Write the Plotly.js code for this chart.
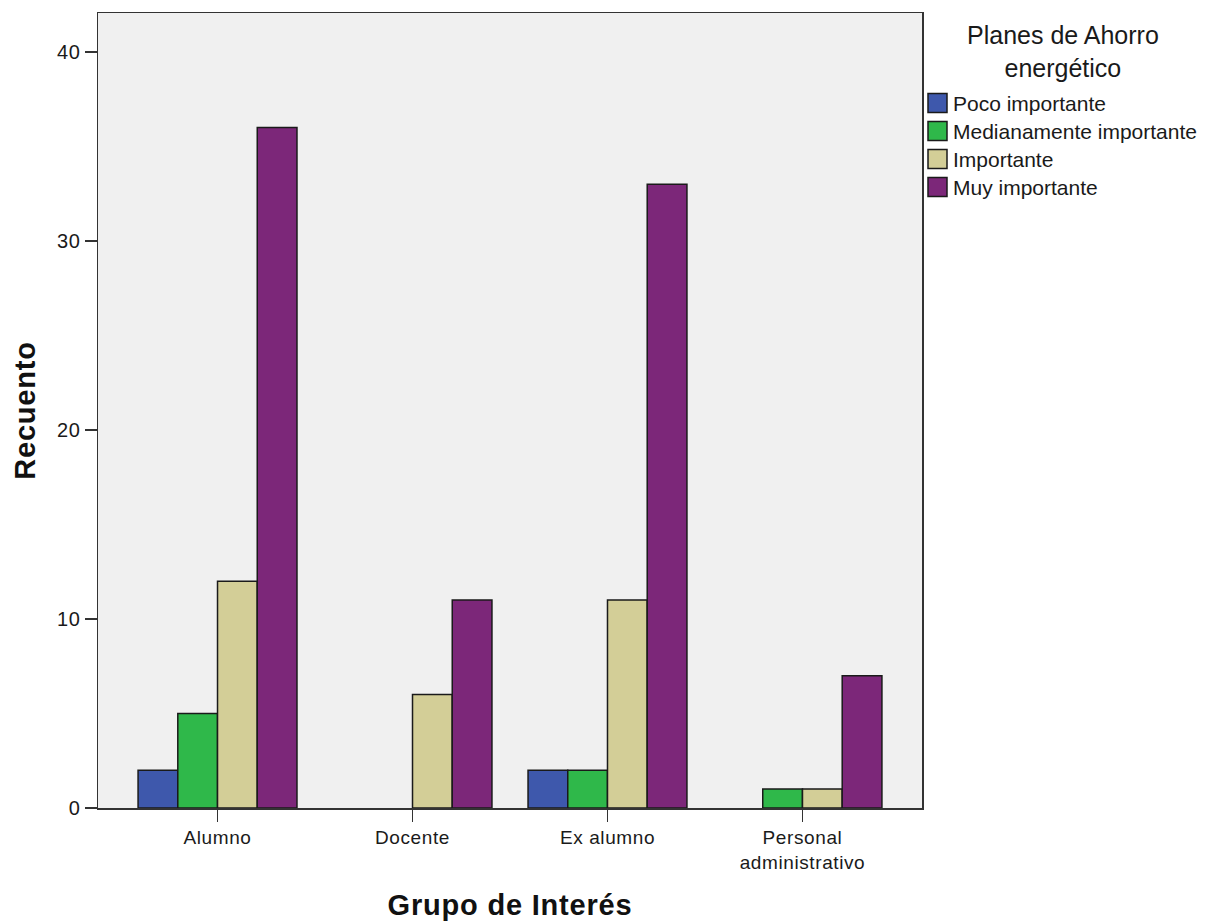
<!DOCTYPE html>
<html>
<head>
<meta charset="utf-8">
<script src="https://cdn.plot.ly/plotly-3.0.1.min.js"></script>
<style>
html,body{margin:0;padding:0;background:#fff;}
#chart{width:1215px;height:921px;}
#chart .xtick text, #chart .ytick text{letter-spacing:0.6px;}
#chart .xtitle, #chart .ytitle{letter-spacing:0.8px;}
</style>
</head>
<body>
<div id="chart"></div>
<script>
const categories = ["Alumno", "Docente", "Ex alumno", "Personal<br>administrativo"];
const seriesNames = ["Poco importante", "Medianamente importante", "Importante", "Muy importante"];
const pocoImportante = [2, 0, 2, 0];
const medianamenteImportante = [5, 0, 2, 1];
const importante = [12, 6, 11, 1];
const muyImportante = [36, 11, 33, 7];
const seriesColors = ["#3e58ac", "#2fb84a", "#d3ce97", "#7c2779"];
const yTicks = [0, 10, 20, 30, 40];
const legendTitle = "Planes de Ahorro<br>energético";

const FONT = "Liberation Sans, Arial, sans-serif";
const W = 1215, H = 921;
const M = {l: 98, r: 293, t: 13, b: 113};
const PW = W - M.l - M.r, PH = H - M.t - M.b;
const px2x = p => (p - M.l) / PW;
const px2y = p => (H - M.b - p) / PH;

const values = [pocoImportante, medianamenteImportante, importante, muyImportante];
const traces = values.map((v, i) => ({
  type: "bar",
  name: seriesNames[i],
  x: categories,
  y: v,
  marker: {color: seriesColors[i], line: {color: "#1a1a1a", width: v.map(d => d === 0 ? 0 : 1.5)}},
  hoverinfo: "x+y+name",
  showlegend: false
}));

// Manual legend (SPSS style)
const shapes = [];
const annotations = [];
const rowStart = 103, rowStep = 28, sq = 19;
seriesNames.forEach((n, i) => {
  const cy = rowStart + i * rowStep;
  shapes.push({
    type: "rect", xref: "paper", yref: "paper",
    x0: px2x(928), x1: px2x(928 + sq), y0: px2y(cy + sq / 2), y1: px2y(cy - sq / 2),
    fillcolor: seriesColors[i], line: {color: "#1a1a1a", width: 1.5}
  });
  annotations.push({
    xref: "paper", yref: "paper", x: px2x(951), y: px2y(cy + 1),
    xanchor: "left", yanchor: "middle", showarrow: false,
    text: n, font: {family: FONT, size: 21, color: "#1a1a1a"}
  });
});
annotations.push({
  xref: "paper", yref: "paper", x: px2x(1063), y: px2y(52),
  xanchor: "center", yanchor: "middle", align: "center", showarrow: false,
  text: legendTitle, font: {family: FONT, size: 25, color: "#1a1a1a"}
});

const layout = {
  width: W, height: H,
  margin: M,
  paper_bgcolor: "#ffffff",
  plot_bgcolor: "#f0f0f0",
  barmode: "group",
  bargap: 0.185,
  bargroupgap: 0,
  showlegend: false,
  font: {family: FONT, color: "#1a1a1a", size: 20},
  xaxis: {
    type: "category",
    range: [-0.613, 3.613],
    showline: true, mirror: true, linecolor: "#333", linewidth: 1.5,
    ticks: "outside", ticklen: 12, tickcolor: "#333", tickwidth: 1.5,
    tickfont: {family: FONT, size: 19, color: "#1a1a1a"},
    showgrid: false, zeroline: false,
    title: {text: "Grupo de Interés", font: {family: FONT, size: 29, color: "#111", weight: "bold"}, standoff: 22}
  },
  yaxis: {
    range: [0, 42.06],
    tickvals: yTicks,
    showline: true, mirror: true, linecolor: "#333", linewidth: 1.5,
    ticks: "outside", ticklen: 12, tickcolor: "#333", tickwidth: 1.5,
    tickfont: {family: FONT, size: 20, color: "#1a1a1a"},
    showgrid: false, zeroline: false,
    title: {text: "Recuento", font: {family: FONT, size: 29, color: "#111", weight: "bold"}, standoff: 14}
  },
  shapes: shapes,
  annotations: annotations
};

Plotly.newPlot("chart", traces, layout, {displayModeBar: false, staticPlot: true});
</script>
</body>
</html>
